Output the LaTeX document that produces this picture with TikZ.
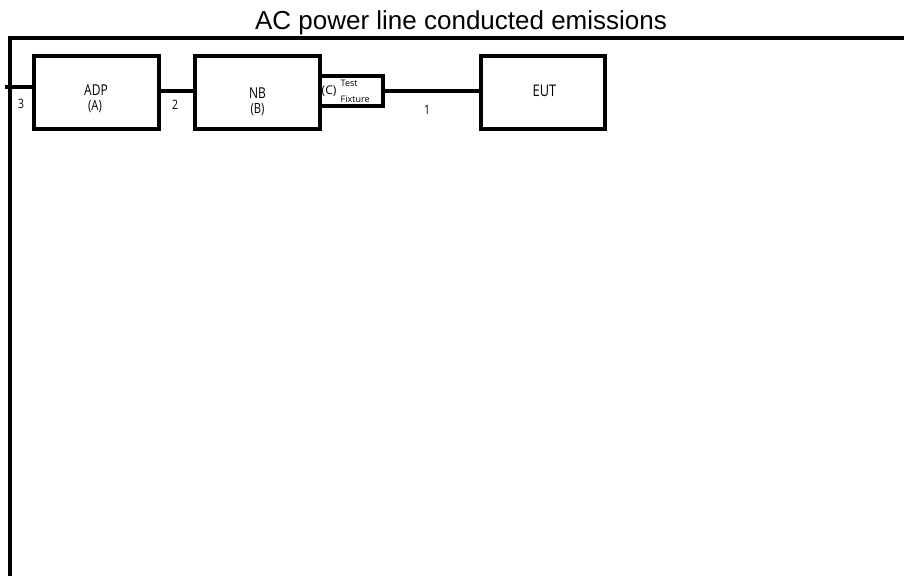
\documentclass[tikz,border=0pt]{standalone}
\usepackage{fontspec}
\setmainfont{Open Sans}
\newfontfamily\titlefont{Liberation Sans}
\newfontfamily\lf[FakeStretch=0.8]{Open Sans}
\begin{document}
\begin{tikzpicture}[x=1pt,y=-1pt,
  box/.style={draw, line width=4pt, rectangle, inner sep=0pt, outer sep=0pt},
  wire/.style={line width=4pt},
  lbl/.style={inner sep=0pt, anchor=base, font=\lf\fontsize{15}{18}\selectfont},
  sub/.style={inner sep=0pt, anchor=base, font=\lf\fontsize{14}{17}\selectfont},
  num/.style={inner sep=0pt, anchor=base, font=\lf\fontsize{13}{16}\selectfont},
  small/.style={inner sep=0pt, anchor=base west, font=\fontsize{9}{11}\selectfont}]
\useasboundingbox (0,0) rectangle (904,576);
% title
\node[inner sep=0pt, anchor=base, font=\titlefont\fontsize{26}{30}\selectfont] (title) at (461,29) {AC power line conducted emissions};
% frame
\coordinate (fb) at (10,576);
\coordinate (fc) at (10,38);
\coordinate (fr) at (904,38);
\draw[wire, line join=miter] (fb) -- (fc) -- (fr);
% boxes
\node[box, minimum width=125pt, minimum height=73pt] (ADP) at (96,92) {};
\node[box, minimum width=125pt, minimum height=73pt] (NB) at (257,92) {};
\node[box, minimum width=63.5pt, minimum height=30pt] (FIX) at (351.25,90.5) {};
\node[box, minimum width=123.4pt, minimum height=73pt] (EUT) at (543,92) {};
% connectors
\coordinate (stub) at (5,87);
\draw[wire] (stub) -- (stub -| ADP.west);
\draw[wire] ([yshift=1pt]ADP.east) -- ([yshift=1pt]NB.west);
\draw[wire] (FIX.east) -- (FIX.east -| EUT.west);
% texts
\node[lbl] (tADP) at (96,95) {ADP};
\node[sub] (tA) at (95,110) {(A)};
\node[lbl] (tNB) at (257.5,98.3) {NB};
\node[sub] (tB) at (257.5,113.5) {(B)};
\node[lbl, font=\lf\fontsize{16}{19}\selectfont] (tEUT) at (544.5,96.7) {EUT};
\node[inner sep=0pt, anchor=base west, font=\fontsize{12}{14}\selectfont] (tC) at (321.5,94.5) {(C)};
\node[small] (tTest) at (340.5,86.5) {Test};
\node[small] (tFix) at (340.5,102.5) {Fixture};
\node[num] (n3) at (21,108) {3};
\node[num] (n2) at (175,109) {2};
\node[num] (n1) at (427,114) {1};
\end{tikzpicture}
\end{document}
